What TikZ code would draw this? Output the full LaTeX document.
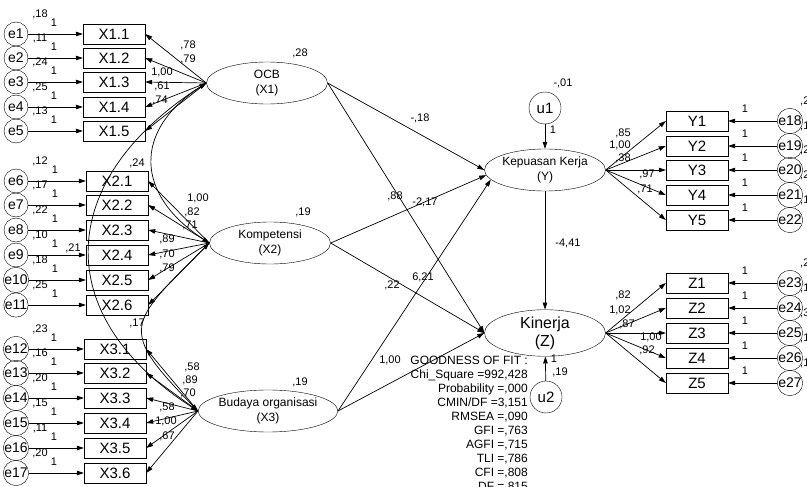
\documentclass[tikz,border=0pt]{standalone}
\usepackage{fontspec}
\setmainfont{Liberation Sans}
\usetikzlibrary{arrows.meta,shapes.geometric}

\begin{document}
\begin{tikzpicture}[x=1pt, y=-1pt,
    >={Triangle[length=7pt,width=4.5pt]},
    latent/.style={draw, ellipse, minimum width=121pt, minimum height=42pt, inner sep=0pt, align=center, font=\fontsize{12}{15}\selectfont},
    obs/.style={draw, minimum width=62pt, minimum height=20pt, inner sep=0pt, font=\fontsize{15}{15}\selectfont},
    err/.style={draw, circle, minimum size=24pt, inner sep=0pt, font=\fontsize{14}{14}\selectfont},
    dist/.style={draw, circle, minimum size=32pt, inner sep=0pt, font=\fontsize{15}{15}\selectfont},
    lbl/.style={inner sep=0pt, font=\fontsize{11}{11}\selectfont},
    arrow/.style={->, line width=0.7pt},
    covarrow/.style={<->, line width=0.7pt}
]
    \useasboundingbox (0,0) rectangle (807,487);
    \clip (0,0) rectangle (807,487);

    % latent variables
    \node[latent] (ocb) at (267,83) {OCB\\(X1)};
    \node[latent] (komp) at (270,243) {Kompetensi\\(X2)};
    \node[latent] (bud) at (268,411) {Budaya organisasi\\(X3)};
    \node[latent] (kep) at (545,170) {Kepuasan Kerja\\(Y)};
    \node[latent, font=\fontsize{16}{18}\selectfont] (kin) at (545,333) {Kinerja\\(Z)};
    \node[dist] (u1) at (545,108) {u1};
    \node[dist] (u2) at (546,397) {u2};

    \node[lbl] (vocb) at (300,53) {,28};
    \node[lbl] (vkomp) at (303,212) {,19};
    \node[lbl] (vbud) at (300,382) {,19};
    \node[lbl] (vu1) at (563,83) {-,01};
    \node[lbl] (wu1) at (553,130) {1};
    \node[lbl] (wu2) at (554,359) {1};
    \node[lbl] (vu2) at (560,372) {,19};

    % X1 indicators
    \foreach \i/\k/\y/\v/\lx/\ly/\l in {1/1/34/{,18}/188/45/{,78}, 2/2/58/{,11}/188/59/{,79},
        3/3/82/{,24}/162/72/{1,00}, 4/4/107/{,25}/162/86/{,61}, 5/5/131/{,13}/160/100/{,74}}{
        \node[obs] (x1\i) at (114,\y) {X1.\i};
        \node[err] (e\k) at (16,\y) {e\k};
        \node[lbl] (ve\k) at (40,\y-20) {\v};
        \node[lbl] (we\k) at (54,\y-11) {1};
        \node[lbl] (lx1\i) at (\lx,\ly) {\l};
        \draw[arrow] (e\k) -- (x1\i);
        \draw[arrow] (ocb.west) -- (x1\i.east);
    }

    % X2 indicators
    \foreach \i/\k/\y/\v/\lx/\ly/\l in {1/6/181/{,12}/198/198/{1,00}, 2/7/205/{,17}/192/212/{,82},
        3/8/230/{,22}/190/225/{,71}, 4/9/255/{,10}/167/239/{,89}, 5/10/280/{,18}/167/254/{,70},
        6/11/305/{,25}/167/268/{,79}}{
        \node[obs] (x2\i) at (117,\y) {X2.\i};
        \node[err] (e\k) at (16,\y) {e\k};
        \node[lbl] (ve\k) at (40,\y-20) {\v};
        \node[lbl] (we\k) at (55,\y-11) {1};
        \node[lbl] (lx2\i) at (\lx,\ly) {\l};
        \draw[arrow] (e\k) -- (x2\i);
        \draw[arrow] (komp.west) -- (x2\i.east);
    }

    % X3 indicators
    \foreach \i/\k/\y/\v/\lx/\ly/\l in {1/12/349/{,23}/192/367/{,58}, 2/13/373/{,16}/190/380/{,89},
        3/14/398/{,20}/188/393/{,70}, 4/15/423/{,15}/167/407/{,58}, 5/16/448/{,11}/166/421/{1,00},
        6/17/473/{,20}/167/436/{,67}}{
        \node[obs] (x3\i) at (115,\y) {X3.\i};
        \node[err] (e\k) at (16,\y) {e\k};
        \node[lbl] (ve\k) at (40,\y-20) {\v};
        \node[lbl] (we\k) at (54,\y-11) {1};
        \node[lbl] (lx3\i) at (\lx,\ly) {\l};
        \draw[arrow] (e\k) -- (x3\i);
        \draw[arrow] (bud.west) -- (x3\i.east);
    }

    % Y indicators
    \foreach \i/\k/\y/\v/\lx/\ly/\l in {1/18/121/{,24}/623/133/{,85}, 2/19/146/{,1}/620/145/{1,00},
        3/20/170/{,2}/623/158/{,38}, 4/21/195/{,2}/647/174/{,97}, 5/22/220/{,1}/645/189/{,71}}{
        \node[obs] (y\i) at (697,\y) {Y\i};
        \node[err] (e\k) at (790,\y) {e\k};
        \node[lbl, anchor=west] (ve\k) at (800,\y-20) {\v};
        \node[lbl] (we\k) at (745,\y-12) {1};
        \node[lbl] (ly\i) at (\lx,\ly) {\l};
        \draw[arrow] (e\k) -- (y\i);
        \draw[arrow] (kep.east) -- (y\i.west);
    }

    % Z indicators
    \foreach \i/\k/\y/\v/\lx/\ly/\l in {1/23/283/{,2}/623/295/{,82}, 2/24/308/{,1}/620/310/{1,02},
        3/25/333/{,3}/627/324/{,87}, 4/26/358/{,1}/651/337/{1,00}, 5/27/383/{,1}/647/350/{,92}}{
        \node[obs] (z\i) at (697,\y) {Z\i};
        \node[err] (e\k) at (790,\y) {e\k};
        \node[lbl, anchor=west] (ve\k) at (800,\y-20) {\v};
        \node[lbl] (we\k) at (745,\y-12) {1};
        \node[lbl] (lz\i) at (\lx,\ly) {\l};
        \draw[arrow] (e\k) -- (z\i);
        \draw[arrow] (kin.east) -- (z\i.west);
    }

    % covariances
    \draw[covarrow] (ocb.west) .. controls +(-74,48) and +(-74,-48) .. (komp.west);
    \draw[covarrow] (ocb.west) .. controls +(-150,96) and +(-150,-96) .. (bud.west);
    \draw[covarrow] (komp.west) .. controls +(-82,82) and +(-80,-82) .. (bud.west);
    \node[lbl] (c12) at (137,163) {,24};
    \node[lbl] (c13) at (73,248) {,21};
    \node[lbl] (c23) at (137,323) {,17};

    % structural paths
    \draw[arrow] (ocb.east) -- (kep.west);
    \draw[arrow] (ocb.east) -- (kin.west);
    \draw[arrow] (komp.east) -- (kep.185);
    \draw[arrow] (komp.east) -- (kin.west);
    \draw[arrow] (bud.east) -- (kep.190);
    \draw[arrow] (bud.east) -- (kin.west);
    \draw[arrow] (kep.south) -- (kin.north);
    \draw[arrow] (u1) -- (kep);
    \draw[arrow] (u2) -- (kin);
    \node[lbl] (p1) at (420,118) {-,18};
    \node[lbl] (p2) at (395,196) {,88};
    \node[lbl] (p3) at (425,202) {-2,17};
    \node[lbl] (p4) at (392,285) {,22};
    \node[lbl] (p5) at (423,277) {6,21};
    \node[lbl] (p6) at (390,360) {1,00};
    \node[lbl] (p7) at (568,243) {-4,41};

    % fit indices
    \node[anchor=north east, align=right, inner sep=0pt, font=\fontsize{12}{14}\selectfont] (gof) at (528,356)
        {GOODNESS OF FIT :\\Chi\_Square =992,428\\Probability =,000\\CMIN/DF =3,151\\RMSEA =,090\\GFI =,763\\AGFI =,715\\TLI =,786\\CFI =,808\\DF =,815};
\end{tikzpicture}
\end{document}
